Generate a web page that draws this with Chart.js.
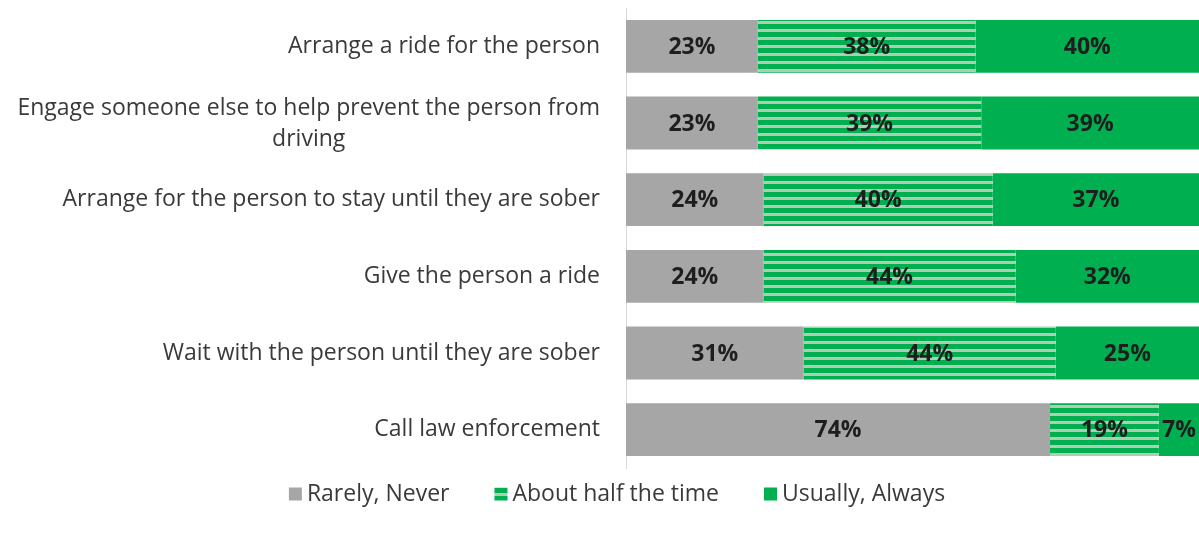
<!DOCTYPE html>
<html>
<head>
<meta charset="utf-8">
<script src="https://cdn.jsdelivr.net/npm/chart.js@4/dist/chart.umd.min.js"></script>
<style>
  html, body { margin: 0; padding: 0; background: #ffffff; }
  #wrap { width: 1199px; height: 533px; }
</style>
</head>
<body>
<div id="wrap"><canvas id="c"></canvas></div>
<script>
// Survey responses: how often each action is taken (percent of respondents)
const categories = [
  'Arrange a ride for the person',
  ['Engage someone else to help prevent the person from', 'driving'],
  'Arrange for the person to stay until they are sober',
  'Give the person a ride',
  'Wait with the person until they are sober',
  'Call law enforcement'
];
const seriesNames = ['Rarely, Never', 'About half the time', 'Usually, Always'];
const rarelyNever = [23, 23, 24, 24, 31, 74];
const aboutHalf = [38, 39, 40, 44, 44, 19];
const usuallyAlways = [40, 39, 37, 32, 25, 7];

const GRAY = '#a6a6a6';
const GREEN = '#00b050';
const STRIPE_LIGHT = '#afcdb6';
const TEXT = '#3a3a3a';
const LABEL_FONT = '"Open Sans", sans-serif';

// horizontal-stripe fill for the middle series
function stripePattern() {
  const p = document.createElement('canvas');
  p.width = 8; p.height = 8;
  const g = p.getContext('2d');
  g.fillStyle = STRIPE_LIGHT;
  g.fillRect(0, 0, 8, 8);
  g.fillStyle = GREEN;
  g.fillRect(0, 0, 8, 5);
  return g.createPattern(p, 'repeat');
}

// category labels: right-aligned block, wrapped lines centred within it
const categoryLabels = {
  id: 'categoryLabels',
  afterDraw(chart) {
    const ctx = chart.ctx;
    const y = chart.scales.y;
    const right = chart.chartArea.left - 26;
    const lineH = 31;
    ctx.save();
    ctx.font = '23px ' + LABEL_FONT;
    ctx.fillStyle = TEXT;
    ctx.textBaseline = 'middle';
    ctx.textAlign = 'center';
    categories.forEach((lab, i) => {
      const lines = Array.isArray(lab) ? lab : [lab];
      const widest = Math.max(...lines.map(l => ctx.measureText(l).width));
      const cx = right - widest / 2;
      const cy = y.getPixelForValue(i) + (lines.length > 1 ? 1 : 0);
      const top = cy - (lines.length - 1) * lineH / 2;
      lines.forEach((l, k) => ctx.fillText(l, cx, top + k * lineH));
    });
    ctx.restore();
  }
};

// percent labels centred in the visible part of each segment
const valueLabels = {
  id: 'valueLabels',
  afterDatasetsDraw(chart) {
    const ctx = chart.ctx;
    const area = chart.chartArea;
    ctx.save();
    ctx.font = 'bold 23px ' + LABEL_FONT;
    ctx.fillStyle = '#1e1e1e';
    ctx.textAlign = 'center';
    ctx.textBaseline = 'middle';
    chart.data.datasets.forEach((ds, di) => {
      chart.getDatasetMeta(di).data.forEach((bar, i) => {
        const a = Math.max(Math.min(bar.x, bar.base), area.left);
        const b = Math.min(Math.max(bar.x, bar.base), area.right);
        ctx.fillText(ds.data[i] + '%', (a + b) / 2, bar.y + 1);
      });
    });
    ctx.restore();
  }
};

// legend row under the plot: small swatch, short gap, wide spacing
const legendRow = {
  id: 'legendRow',
  afterDraw(chart) {
    const ctx = chart.ctx;
    const box = 13, gap = 5, spacing = 45, cy = 494, centre = 617;
    ctx.save();
    ctx.font = '23px ' + LABEL_FONT;
    ctx.textBaseline = 'middle';
    ctx.textAlign = 'left';
    const items = chart.data.datasets.map(ds => ({
      text: ds.label, fill: ds.backgroundColor, w: ctx.measureText(ds.label).width
    }));
    const total = items.reduce((s, it) => s + box + gap + it.w, 0) + spacing * (items.length - 1);
    let x = centre - total / 2;
    items.forEach(it => {
      ctx.fillStyle = it.fill;
      ctx.fillRect(x, cy - box / 2, box, box);
      ctx.fillStyle = TEXT;
      ctx.fillText(it.text, x + box + gap, cy);
      x += box + gap + it.w + spacing;
    });
    ctx.restore();
  }
};

const stripes = stripePattern();

new Chart(document.getElementById('c'), {
  type: 'bar',
  data: {
    labels: categories,
    datasets: [
      { label: seriesNames[0], data: rarelyNever, backgroundColor: GRAY },
      { label: seriesNames[1], data: aboutHalf, backgroundColor: stripes },
      { label: seriesNames[2], data: usuallyAlways, backgroundColor: GREEN }
    ]
  },
  options: {
    indexAxis: 'y',
    responsive: true,
    maintainAspectRatio: false,
    animation: false,
    layout: { padding: { top: 8, right: 0, left: 0, bottom: 65 } },
    datasets: { bar: { barPercentage: 0.69, categoryPercentage: 1, borderWidth: 0 } },
    scales: {
      x: { stacked: true, min: 0, max: 100, display: false },
      y: {
        stacked: true,
        grid: { display: false },
        border: { display: true, color: '#d9d9d9', width: 1 },
        ticks: { display: false },
        afterFit(scale) { scale.width = 626; }
      }
    },
    plugins: {
      legend: { display: false },
      tooltip: { enabled: false }
    }
  },
  plugins: [categoryLabels, valueLabels, legendRow]
});
</script>
</body>
</html>
